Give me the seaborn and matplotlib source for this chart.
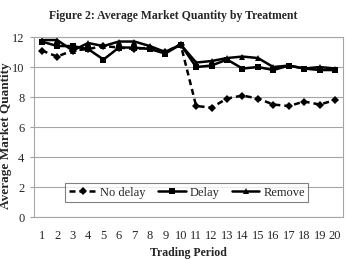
import matplotlib
matplotlib.use("Agg")
import matplotlib.pyplot as plt
import seaborn as sns
import pandas as pd
import numpy as np

periods = list(range(1, 21))
no_delay = [11.1, 10.7, 11.1, 11.2, 11.4, 11.3, 11.2, 11.3, 11.0, 11.5,
            7.4, 7.3, 7.9, 8.1, 7.9, 7.5, 7.4, 7.7, 7.5, 7.8]
delay = [11.7, 11.4, 11.4, 11.2, 10.5, 11.3, 11.3, 11.2, 10.9, 11.5,
         10.0, 10.1, 10.5, 9.9, 10.0, 9.8, 10.1, 9.9, 9.8, 9.8]
remove = [11.8, 11.8, 11.1, 11.6, 11.4, 11.7, 11.7, 11.4, 11.0, 11.5,
          10.3, 10.4, 10.6, 10.7, 10.6, 10.0, 10.1, 9.9, 10.0, 9.9]
series_names = ["No delay", "Delay", "Remove"]

df = pd.DataFrame({
    "period": periods * 3,
    "value": no_delay + delay + remove,
    "treatment": [n for n in series_names for _ in periods],
})

sns.set_style("white")
plt.rcParams["font.family"] = ["Liberation Serif", "DejaVu Serif"]

fig = plt.figure(figsize=(3.47, 2.59), dpi=100)
ax = fig.add_axes([0.098, 0.162, 0.890, 0.695])

styles = {"No delay": ("D", (2.4, 1.6)), "Delay": ("s", ""), "Remove": ("^", "")}
sns.lineplot(data=df, x="period", y="value", hue="treatment", style="treatment",
             palette=["black"] * 3, markers={k: v[0] for k, v in styles.items()},
             dashes={k: v[1] for k, v in styles.items()}, markersize=5,
             markeredgewidth=0, linewidth=1.8, ax=ax, legend=True)
for line in ax.lines:
    if line.get_marker() == "D":
        line.set_markersize(4.5)

ax.set_xlim(0.5, 20.5)
ax.set_ylim(0, 12)
ax.set_yticks(range(0, 13, 2))
ax.set_xticks(periods)
ax.set_xticks(np.arange(0.5, 21, 1), minor=True)
ax.tick_params(axis="x", which="major", length=0, labelsize=9, pad=9)
ax.tick_params(axis="x", which="minor", length=3, color="#a0a0a0", direction="out")
ax.tick_params(axis="y", length=3, color="#a0a0a0", labelsize=9, left=True, pad=4)
ax.yaxis.grid(True, color="#a6a6a6", linewidth=0.8)
for s in ax.spines.values():
    s.set_color("#a6a6a6")
    s.set_linewidth(0.8)

ax.set_xlabel("Trading Period", fontsize=8.5, fontweight="bold", labelpad=4)
ax.set_ylabel("Average Market Quantity", fontsize=9.5, fontweight="bold")
ax.yaxis.set_label_coords(-0.072, 0.45)
fig.suptitle("Figure 2: Average Market Quantity by Treatment", fontsize=8.5,
             fontweight="bold", y=0.96)

leg = ax.legend(loc="center", bbox_to_anchor=(0.495, 0.136), ncol=3, fontsize=9,
                frameon=True, fancybox=False, handlelength=2.2, handletextpad=0.3,
                columnspacing=1.0, borderpad=0.3)
leg.get_frame().set_edgecolor("#606060")
leg.get_frame().set_linewidth(0.8)

fig.savefig("out.png", dpi=100)
